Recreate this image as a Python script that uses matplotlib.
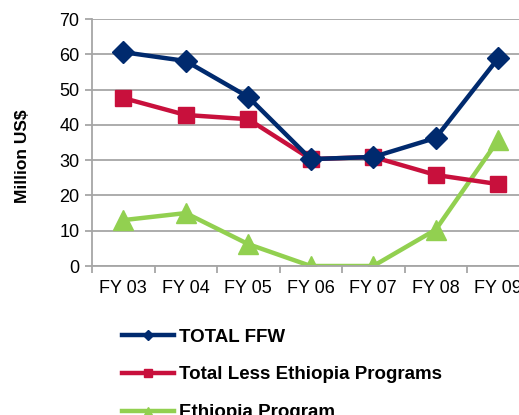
import numpy as np
import matplotlib.pyplot as plt
from matplotlib.ticker import FixedLocator

plt.rcParams['font.family'] = ['Liberation Sans', 'DejaVu Sans']

years = ['FY 03', 'FY 04', 'FY 05', 'FY 06', 'FY 07', 'FY 08', 'FY 09']
total_ffw = [60.6, 58.1, 47.9, 30.3, 30.9, 36.3, 58.9]
total_less_ethiopia = [47.6, 42.8, 41.6, 30.3, 30.9, 25.8, 23.2]
ethiopia = [13.0, 15.0, 6.2, 0.0, 0.0, 10.3, 35.7]

navy = '#002a6e'
red = '#c8103c'
green = '#92d050'
grid_gray = '#a6a6a6'

fig = plt.figure(figsize=(5.19, 4.15), dpi=100)
# plot area runs past the right edge, so the last category is clipped
ax = fig.add_axes([92 / 519, 149 / 415, 437.5 / 519, 247 / 415])

x = np.arange(len(years))
ax.plot(x, total_ffw, color=navy, lw=3.2, marker='D', ms=11, label='TOTAL FFW', zorder=4)
ax.plot(x, total_less_ethiopia, color=red, lw=3.2, marker='s', ms=12, label='Total Less Ethiopia Programs', zorder=3)
ax.plot(x, ethiopia, color=green, lw=3.2, marker='^', ms=14, label='Ethiopia Program', zorder=2)

ax.set_xlim(-0.5, len(years) - 0.5)
ax.set_ylim(0, 70)
ax.set_yticks(range(0, 71, 10))
ax.yaxis.grid(True, color=grid_gray, lw=1.3)
ax.set_axisbelow(True)

ax.set_xticks(x)
ax.set_xticklabels(years)
ax.xaxis.set_minor_locator(FixedLocator(np.arange(-0.5, len(years), 1)))
ax.tick_params(axis='x', which='major', length=0, pad=10, labelsize=13)
ax.tick_params(axis='x', which='minor', length=5, color=grid_gray, width=1.3)
ax.tick_params(axis='y', length=5, color=grid_gray, width=1.3, labelsize=13, pad=4)

for side in ['top', 'right']:
    ax.spines[side].set_visible(False)
for side in ['left', 'bottom']:
    ax.spines[side].set_color(grid_gray)
    ax.spines[side].set_linewidth(1.3)

ax.set_ylabel('Million US$', fontweight='bold', fontsize=12.5)
ax.yaxis.set_label_coords(-0.142, 0.445)

fig.legend(loc='upper left', bbox_to_anchor=(114 / 519, 1 - 321 / 415), frameon=False,
           prop={'weight': 'bold', 'size': 13.5}, markerscale=0.45,
           handlelength=2.8, handletextpad=0.28, labelspacing=1.1, borderaxespad=0)

fig.savefig('out.png', dpi=100)
